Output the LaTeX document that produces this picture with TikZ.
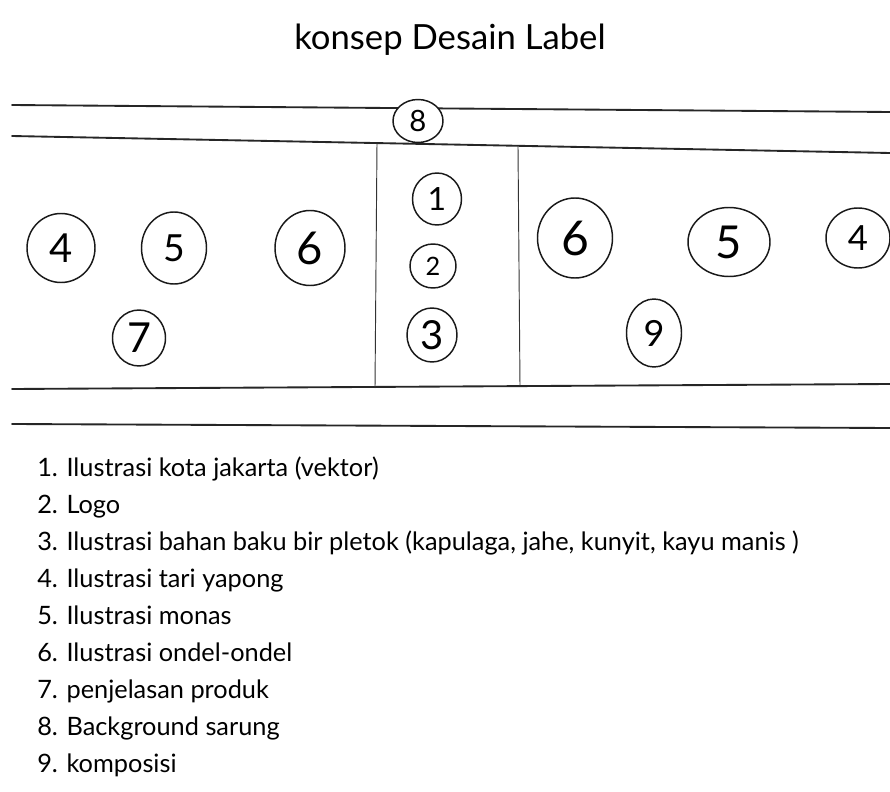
\documentclass[tikz,border=0pt]{standalone}
\usepackage{fontspec}
\setmainfont{Lato}
\usetikzlibrary{shapes.geometric}
\begin{document}
\begin{tikzpicture}[x=0.75pt,y=-0.75pt,
  ink/.style={draw=black!85, line width=1.4pt, line cap=round},
  thinink/.style={draw=black!80, line width=0.7pt},
  num/.style n args={3}{ellipse, draw=black!90, line width=1.1pt, inner sep=0pt,
     fill=white, minimum width=#1*0.75pt, minimum height=#2*0.75pt,
     font=\fontsize{#3}{#3}\selectfont},
  item/.style={anchor=base west, inner sep=0pt, font=\fontsize{19}{19}\selectfont},
  titlestyle/.style={anchor=base, inner sep=0pt, font=\fontsize{26}{26}\selectfont}]
\useasboundingbox[fill=white] (0,0) rectangle (890,792);

% title
\node[titlestyle] (title) at (450,50) {konsep Desain Label};

% horizontal lines of the label
\coordinate (l1a) at (12,105);  \coordinate (l1b) at (890,112);
\coordinate (l2a) at (12,136);  \coordinate (l2b) at (890,153);
\coordinate (l3a) at (12,389);  \coordinate (l3b) at (890,384);
\coordinate (l4a) at (12,424);  \coordinate (l4b) at (890,428);
\draw[ink] (l1a) -- (l1b);
\draw[ink] (l2a) -- (l2b);
\draw[ink] (l3a) -- (l3b);
\draw[ink] (l4a) -- (l4b);

% vertical lines
\coordinate (v1a) at (377,143); \coordinate (v1b) at (375,388);
\coordinate (v2a) at (518,146); \coordinate (v2b) at (520,386);
\draw[thinink] (v1a) -- (v1b);
\draw[thinink] (v2a) -- (v2b);

% numbered circles
\node[num={50}{43}{22}] (c8) at (418,121) {8};
\node[num={49}{52}{24}] (c1) at (437,199) {1};
\node[num={46}{44}{19}] (c2) at (433,266) {2};
\node[num={50}{54}{30}] (c3) at (432,335) {3};
\node[num={68}{69}{30}] (c4l) at (61,248) {4};
\node[num={65}{72}{28}] (c5l) at (174,248) {5};
\node[num={70}{75}{34}] (c6l) at (310,248) {6};
\node[num={53}{56}{31}] (c7) at (139,338) {7};
\node[num={75}{80}{36}] (c6r) at (575,238) {6};
\node[num={82}{69}{34}] (c5r) at (729,242) {5};
\node[num={64}{60}{26}] (c4r) at (858,238) {4};
\node[num={55}{68}{27}] (c9) at (654,333) {9};

% legend
\node[item] (i1) at (37,476) {1. Ilustrasi kota jakarta (vektor)};
\node[item] (i2) at (37,513) {2. Logo};
\node[item] (i3) at (37,550) {3. Ilustrasi bahan baku bir pletok (kapulaga, jahe, kunyit, kayu manis )};
\node[item] (i4) at (37,587) {4. Ilustrasi tari yapong};
\node[item] (i5) at (37,624) {5. Ilustrasi monas};
\node[item] (i6) at (37,661) {6. Ilustrasi ondel-ondel};
\node[item] (i7) at (37,698) {7. penjelasan produk};
\node[item] (i8) at (37,735) {8. Background sarung};
\node[item] (i9) at (37,772) {9. komposisi};
\end{tikzpicture}
\end{document}
